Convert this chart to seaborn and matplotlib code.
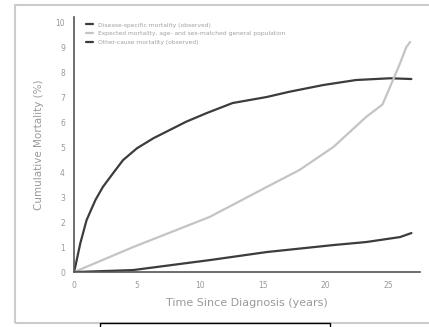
import numpy as np
import pandas as pd
import seaborn as sns
import matplotlib.pyplot as plt
from matplotlib.patches import Rectangle

# values (years, cumulative mortality %)
labels = ["Disease-specific mortality (observed)",
          "Expected mortality, age- and sex-matched general population",
          "Other-cause mortality (observed)"]

years_top = [0, 0.1, 0.5, 1.0, 1.7, 2.3, 3.1, 3.9, 5.0, 6.3, 7.6, 8.9, 10.5, 12.6, 15.3,
             17.1, 19.8, 22.4, 25.1, 26.8]
mort_top = [0, 0.21, 1.15, 2.08, 2.88, 3.41, 3.95, 4.48, 4.95, 5.35, 5.68, 6.01, 6.35, 6.76, 7.0,
            7.21, 7.48, 7.68, 7.75, 7.72]

years_mid = [0, 4.7, 10.8, 15.3, 17.9, 20.6, 23.2, 24.5, 25.1, 25.9, 26.4, 26.7]
mort_mid = [0, 1.0, 2.21, 3.4, 4.08, 5.0, 6.2, 6.7, 7.4, 8.35, 9.0, 9.2]

years_low = [0, 4.7, 10.8, 15.3, 20.6, 23.2, 25.9, 26.8]
mort_low = [0, 0.08, 0.48, 0.8, 1.08, 1.2, 1.4, 1.56]

xticks = [0, 5, 10, 15, 20, 25]
yticks = list(range(0, 11))

df = pd.concat([
    pd.DataFrame({"years": years_top, "mort": mort_top, "group": labels[0]}),
    pd.DataFrame({"years": years_mid, "mort": mort_mid, "group": labels[1]}),
    pd.DataFrame({"years": years_low, "mort": mort_low, "group": labels[2]}),
])

sns.set_style("white")
plt.rcParams['font.family'] = ['DejaVu Sans']

fig = plt.figure(figsize=(4.29, 3.27), dpi=100)
ax = fig.add_axes([0.1725, 0.168, 0.807, 0.78])

pal = {labels[0]: "#3c3c3c", labels[1]: "#c4c4c4", labels[2]: "#3c3c3c"}
sns.lineplot(data=df, x="years", y="mort", hue="group", palette=pal,
             linewidth=1.6, ax=ax, sort=False, estimator=None)

ax.set_xlim(0, 27.5)
ax.set_ylim(0, 10.2)
ax.set_xticks(xticks)
ax.set_yticks(yticks)
ax.tick_params(axis="both", labelsize=5.5, colors="#999999", length=3, width=0.8)
ax.tick_params(axis="y", direction="out")
for s in ["top", "right"]:
    ax.spines[s].set_visible(False)
for s in ["left", "bottom"]:
    ax.spines[s].set_color("#555555")
    ax.spines[s].set_linewidth(1.2)

ax.set_xlabel("Time Since Diagnosis (years)", fontsize=8, color="#999999", labelpad=6)
ax.set_ylabel("Cumulative Mortality (%)", fontsize=7.5, color="#999999", labelpad=8)

leg = ax.legend(loc="upper left", bbox_to_anchor=(0.02, 1.0), frameon=False,
                fontsize=4.3, handlelength=1.2, labelspacing=0.6)
for t in leg.get_texts():
    t.set_color("#a0a0a0")

# frame around the figure and the cut-off caption box below
fig.patches.append(Rectangle((15 / 429, 4 / 327), 420 / 429, 318 / 327,
                             transform=fig.transFigure, fill=False,
                             edgecolor="#cccccc", linewidth=1.5))
fig.patches.append(Rectangle((100 / 429, -5 / 327), 230 / 429, 9 / 327,
                             transform=fig.transFigure, facecolor="white",
                             edgecolor="black", linewidth=1.0))

fig.savefig("out.png", dpi=100)
